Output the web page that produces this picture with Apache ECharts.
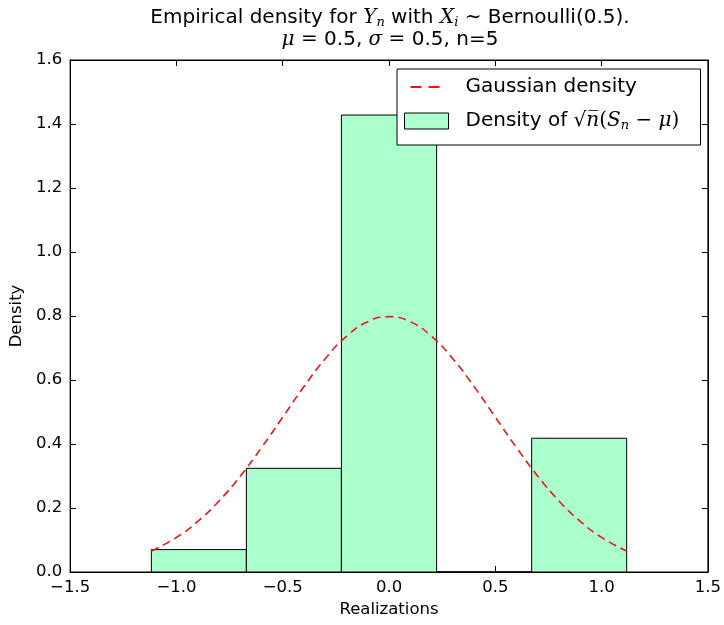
<!DOCTYPE html>
<html><head><meta charset="utf-8">
<script src="https://cdn.jsdelivr.net/npm/echarts@6/dist/echarts.min.js"></script>
<style>html,body{margin:0;padding:0;background:#fff}#c{width:724px;height:625px}</style>
</head><body><div id="c"></div>
<script>
// Histogram bins (edges) and densities
var binEdges = [-1.118, -0.671, -0.224, 0.224, 0.671, 1.118];
var binDensity = [0.07, 0.324, 1.428, 0.0, 0.418];
// Gaussian density curve points
var gaussX = [-1.118, -1.0, -0.9, -0.8, -0.7, -0.6, -0.5, -0.4, -0.3, -0.2, -0.1, 0.0, 0.1, 0.2, 0.3, 0.4, 0.5, 0.6, 0.7, 0.8, 0.9, 1.0, 1.118];
var gaussY = [0.0655, 0.108, 0.1579, 0.2218, 0.2995, 0.3884, 0.4839, 0.5794, 0.6665, 0.7366, 0.7821, 0.7979, 0.7821, 0.7366, 0.6665, 0.5794, 0.4839, 0.3884, 0.2995, 0.2218, 0.1579, 0.108, 0.0655];
var xTicks = {min: -1.5, max: 1.5, interval: 0.5};
var yTicks = {min: 0, max: 1.6, interval: 0.2};
var seriesNames = ['Gaussian density', 'Density of sqrt(n)(S_n - mu)'];

var FONT = 'DejaVu Sans';
var RED = '#ee1515';
var histData = binDensity.map(function (h, i) { return [binEdges[i], binEdges[i + 1], h]; });
var lineData = gaussX.map(function (x, i) { return [x, gaussY[i]]; });

function fmt(v) { return v.toFixed(1).replace('-', '\u2212'); }

var chart = echarts.init(document.getElementById('c'));
var baseX = {
  type: 'value', min: xTicks.min, max: xTicks.max, interval: xTicks.interval,
  axisLine: {onZero: false, lineStyle: {color: '#000', width: 1}},
  axisTick: {inside: true, length: 6, lineStyle: {color: '#000'}},
  splitLine: {show: false}
};
var baseY = {
  type: 'value', min: yTicks.min, max: yTicks.max, interval: yTicks.interval,
  axisLine: {show: true, onZero: false, lineStyle: {color: '#000', width: 1}},
  axisTick: {show: true, inside: true, length: 6, lineStyle: {color: '#000'}},
  splitLine: {show: false}
};
var dashIcon = 'path://M0,0M44,16M6,7.1h11v1.8h-11zM24,7.1h11v1.8h-11z';
chart.setOption({
  animation: false,
  textStyle: {fontFamily: FONT},
  grid: {left: 70, right: 14, top: 60, bottom: 53, show: true, borderColor: '#000', borderWidth: 1},
  graphic: [{
    type: 'text', x: 390, y: 7, z: 10,
    style: {
      align: 'center', verticalAlign: 'top',
      text: 'Empirical density for {m|Y}{s|n} with {m|X}{s|i} {m|\u223C} Bernoulli(0.5).\n{m|\u03BC} {m|=} 0.5, {m|\u03C3} {m|=} 0.5, n=5',
      font: '20px "DejaVu Sans"', fill: '#000', lineHeight: 22,
      rich: {
        m: {fontFamily: 'DejaVu Serif', fontStyle: 'italic', fontSize: 20, lineHeight: 22},
        s: {fontFamily: 'DejaVu Serif', fontStyle: 'italic', fontSize: 13, lineHeight: 22, padding: [9, 0, 0, 0]}
      }
    }
  }],
  legend: {
    orient: 'vertical', left: 397, top: 69,
    padding: [8, 10, 13, 7],
    itemWidth: 44, itemHeight: 16, itemGap: 13,
    backgroundColor: '#fff', borderColor: '#000', borderWidth: 1,
    textStyle: {fontFamily: FONT, fontSize: 20, color: '#000', lineHeight: 20,
      width: 225, padding: [0, 0, 0, 12],
      rich: {
        m: {fontFamily: 'DejaVu Serif', fontStyle: 'italic', fontSize: 20, lineHeight: 20},
        r: {fontFamily: 'DejaVu Serif', fontSize: 20, lineHeight: 20},
        s: {fontFamily: 'DejaVu Serif', fontStyle: 'italic', fontSize: 13, lineHeight: 20, padding: [9, 0, 0, 0]}
      }
    },
    formatter: function (name) {
      if (name === seriesNames[0]) return name;
      return 'Density of {r|\u221A}{m|n\u0305}{r|(}{m|S}{s|n}{r| \u2212 }{m|\u03BC}{r|)}';
    },
    data: [
      {name: seriesNames[0], icon: dashIcon, itemStyle: {color: RED}},
      {name: seriesNames[1], icon: 'rect', itemStyle: {color: '#aaffcc', borderColor: '#000', borderWidth: 1}}
    ]
  },
  xAxis: [
    Object.assign({}, baseX, {
      position: 'bottom', name: 'Realizations', nameLocation: 'middle', nameGap: 29,
      nameTextStyle: {fontFamily: FONT, fontSize: 16.5, color: '#000'},
      axisLabel: {formatter: fmt, color: '#000', fontFamily: FONT, fontSize: 16.5, margin: 7}
    }),
    Object.assign({}, baseX, {position: 'top', axisLabel: {show: false}})
  ],
  yAxis: [
    Object.assign({}, baseY, {
      position: 'left', name: 'Density', nameLocation: 'middle', nameGap: 43,
      nameTextStyle: {fontFamily: FONT, fontSize: 16.5, color: '#000'},
      axisLabel: {formatter: fmt, color: '#000', fontFamily: FONT, fontSize: 16.5, margin: 8}
    }),
    Object.assign({}, baseY, {position: 'right', axisLabel: {show: false}})
  ],
  series: [
    {
      name: seriesNames[1], type: 'custom', xAxisIndex: 0, yAxisIndex: 0,
      itemStyle: {color: '#aaffcc'},
      encode: {x: [0, 1], y: 2},
      renderItem: function (params, api) {
        var p0 = api.coord([api.value(0), api.value(2)]);
        var p1 = api.coord([api.value(1), 0]);
        return {
          type: 'rect',
          shape: {x: p0[0], y: p0[1], width: p1[0] - p0[0], height: p1[1] - p0[1]},
          style: {fill: '#aaffcc', stroke: '#000', lineWidth: 1}
        };
      },
      data: histData, z: 2
    },
    {
      name: seriesNames[0], type: 'line', xAxisIndex: 0, yAxisIndex: 0,
      data: lineData, smooth: true, symbol: 'none', showSymbol: false,
      lineStyle: {color: RED, width: 1.6, type: [8, 5]},
      itemStyle: {color: RED},
      z: 3
    }
  ]
});
</script></body></html>
